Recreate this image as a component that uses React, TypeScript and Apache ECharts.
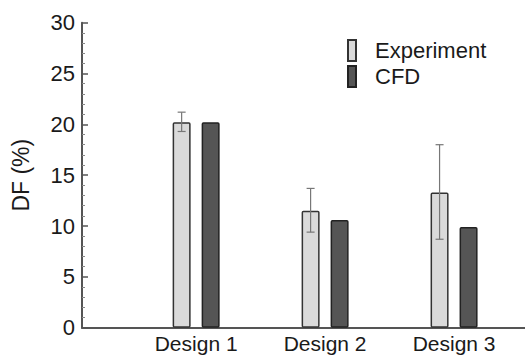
import React, { useEffect, useRef } from "react";
import * as echarts from "echarts";

const categories = ["Design 1", "Design 2", "Design 3"];
const experiment = [20.2, 11.5, 13.3];
const cfd = [20.2, 10.6, 9.9];
const errLow = [19.3, 9.4, 8.7];
const errHigh = [21.2, 13.7, 18.0];
const yMin = 0;
const yMax = 30;
const yInterval = 5;
const xMin = 0.115;
const xMax = 3.55;

const BAR_W = 18;
const BAR_GAP_PX = 11;
const EXP_OFFSET = -(BAR_W + BAR_GAP_PX) / 2;
const CAP_W = 8;
const FONT = "'Liberation Sans', Arial, sans-serif";

export default function App() {
  const ref = useRef<HTMLDivElement>(null);
  useEffect(() => {
    document.body.style.margin = "0";
    const chart = echarts.init(ref.current!, null, { renderer: "svg" });
    const option: any = {
      animation: false,
      textStyle: { fontFamily: FONT },
      grid: { left: 82, right: 0, top: 22.7, bottom: 28.3, containLabel: false },
      legend: {
        orient: "vertical",
        left: 342,
        top: 34,
        itemWidth: 8,
        itemHeight: 21,
        itemGap: 3,
        icon: "rect",
        textStyle: { fontSize: 22, color: "#1a1a1a", fontFamily: FONT, padding: [0, 0, 0, 14] },
        data: ["Experiment", "CFD"],
      },
      xAxis: {
        type: "value",
        min: xMin,
        max: xMax,
        axisLine: { show: true, lineStyle: { color: "#555", width: 2 } },
        axisTick: { show: false },
        splitLine: { show: false },
        axisLabel: {
          customValues: [1, 2, 3],
          formatter: (v: number) => categories[Math.round(v) - 1] ?? "",
          fontSize: 21,
          color: "#1a1a1a",
          fontFamily: FONT,
          margin: 5,
        },
      },
      yAxis: {
        type: "value",
        min: yMin,
        max: yMax,
        interval: yInterval,
        name: "DF (%)",
        nameLocation: "middle",
        nameGap: 50,
        nameTextStyle: { fontSize: 23, color: "#1a1a1a", fontFamily: FONT },
        axisLine: { show: true, lineStyle: { color: "#555", width: 2 } },
        axisTick: { show: true, inside: true, length: 6, lineStyle: { color: "#555", width: 1.5 } },
        minorTick: { show: true, splitNumber: 5, length: 3, lineStyle: { color: "#888", width: 1 } },
        splitLine: { show: false },
        axisLabel: { fontSize: 22, color: "#1a1a1a", fontFamily: FONT, margin: 7 },
      },
      series: [
        {
          name: "Experiment",
          type: "bar",
          barWidth: BAR_W,
          barGap: (BAR_GAP_PX / BAR_W) * 100 + "%",
          data: categories.map((_, i) => [i + 1, experiment[i]]),
          itemStyle: { color: "#dadada", borderColor: "#333", borderWidth: 1.5, borderRadius: 1 },
        },
        {
          name: "CFD",
          type: "bar",
          barWidth: BAR_W,
          data: categories.map((_, i) => [i + 1, cfd[i]]),
          itemStyle: { color: "#555555", borderColor: "#222", borderWidth: 1.5, borderRadius: 1 },
        },
        {
          name: "err",
          type: "custom",
          z: 10,
          encode: { x: 0, y: [1, 2] },
          data: categories.map((_, i) => [i + 1, errLow[i], errHigh[i]]),
          renderItem: (params: any, api: any) => {
            const x = api.value(0);
            const pLo = api.coord([x, api.value(1)]);
            const pHi = api.coord([x, api.value(2)]);
            const cx = pLo[0] + EXP_OFFSET;
            const style = { stroke: "#777", lineWidth: 1.2 };
            return {
              type: "group",
              children: [
                { type: "line", shape: { x1: cx, y1: pLo[1], x2: cx, y2: pHi[1] }, style },
                { type: "line", shape: { x1: cx - CAP_W / 2, y1: pLo[1], x2: cx + CAP_W / 2, y2: pLo[1] }, style },
                { type: "line", shape: { x1: cx - CAP_W / 2, y1: pHi[1], x2: cx + CAP_W / 2, y2: pHi[1] }, style },
              ],
            };
          },
        },
      ],
    };
    chart.setOption(option);
    return () => chart.dispose();
  }, []);
  return <div ref={ref} style={{ width: 525, height: 356 }} />;
}
